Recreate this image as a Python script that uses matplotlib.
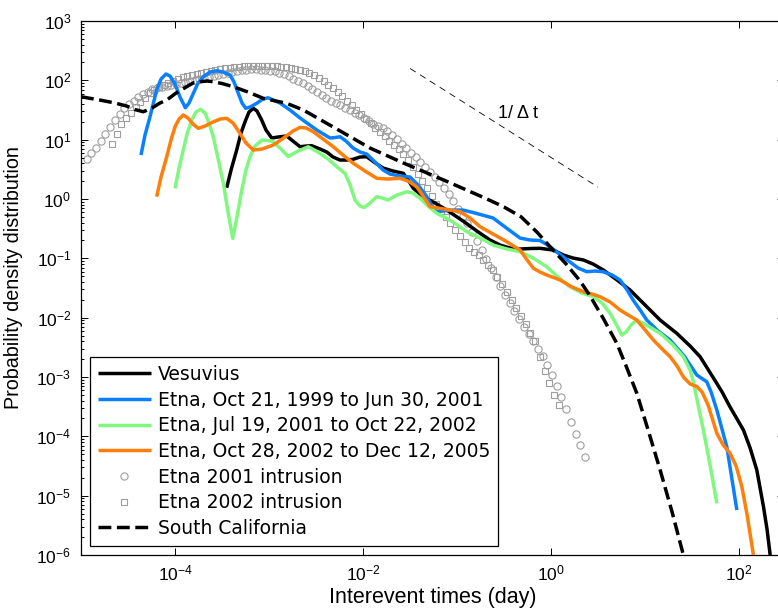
import numpy as np
import matplotlib
matplotlib.use('Agg')
import matplotlib.pyplot as plt
from matplotlib.ticker import LogLocator, NullLocator, NullFormatter

plt.rcParams['font.family'] = ['Liberation Sans', 'DejaVu Sans']
plt.rcParams['mathtext.default'] = 'regular'

# ---- data (log10 of day / log10 of pdf) ----
ves_logx = [-3.450, -3.404, -3.344, -3.298, -3.255, -3.213, -3.167, -3.128, -3.078, -3.032,
            -2.971, -2.904, -2.812, -2.745, -2.670, -2.606, -2.546, -2.457, -2.386, -2.319,
            -2.245, -2.173, -2.106, -2.032, -1.961, -1.883, -1.787, -1.681, -1.571, -1.521,
            -1.465, -1.359, -1.234, -1.110, -0.936, -0.755, -0.649, -0.543, -0.436, -0.330,
            -0.223, -0.117, 0.021, 0.131, 0.234, 0.344, 0.447, 0.556, 0.702, 0.840,
            1.000, 1.160, 1.337, 1.479, 1.585, 1.727, 1.819, 1.902, 2.046, 2.117,
            2.188, 2.223, 2.259, 2.298, 2.330]
ves_logy = [0.190, 0.489, 0.826, 1.112, 1.303, 1.466, 1.529, 1.483, 1.331, 1.163,
            1.028, 1.045, 1.062, 0.977, 0.881, 0.893, 0.898, 0.843, 0.792, 0.708,
            0.657, 0.657, 0.669, 0.708, 0.713, 0.623, 0.522, 0.472, 0.433, 0.320,
            0.180, 0.039, -0.068, -0.186, -0.371, -0.578, -0.691, -0.776, -0.826, -0.843,
            -0.834, -0.831, -0.860, -0.944, -0.995, -1.028, -1.096, -1.197, -1.365, -1.534,
            -1.787, -2.040, -2.264, -2.478, -2.658, -3.017, -3.253, -3.501, -3.894, -4.197,
            -4.568, -4.871, -5.186, -5.579, -6.000]

etna1_logx = [-4.362, -4.319, -4.266, -4.195, -4.149, -4.096, -4.053, -4.000, -3.947, -3.890,
              -3.851, -3.805, -3.755, -3.699, -3.628, -3.556, -3.489, -3.415, -3.372, -3.327,
              -3.287, -3.248, -3.202, -3.131, -3.074, -3.011, -2.883, -2.777, -2.670, -2.493,
              -2.351, -2.298, -2.245, -2.181, -2.106, -2.032, -1.961, -1.872, -1.787, -1.713,
              -1.606, -1.500, -1.415, -1.322, -1.277, -1.216, -1.149, -1.074, -0.936, -0.809,
              -0.617, -0.489, -0.330, -0.223, -0.117, -0.053, 0.021, 0.117, 0.202, 0.287,
              0.380, 0.468, 0.553, 0.649, 0.734, 0.809, 0.872, 0.947, 1.018, 1.138,
              1.266, 1.415, 1.550, 1.656, 1.702, 1.763, 1.869, 1.976]
etna1_logy = [0.741, 1.079, 1.387, 1.837, 2.022, 2.107, 2.073, 1.938, 1.719, 1.539,
              1.618, 1.781, 1.955, 2.061, 2.140, 2.162, 2.140, 2.090, 1.972, 1.781,
              1.618, 1.529, 1.550, 1.613, 1.677, 1.707, 1.618, 1.500, 1.365, 1.163,
              1.028, 1.036, 1.050, 0.977, 0.859, 0.792, 0.758, 0.623, 0.489, 0.421,
              0.387, 0.371, 0.236, 0.039, -0.101, -0.214, -0.202, -0.186, -0.186, -0.236,
              -0.320, -0.472, -0.658, -0.691, -0.700, -0.759, -0.843, -0.961, -1.062, -1.163,
              -1.225, -1.214, -1.225, -1.281, -1.365, -1.534, -1.702, -1.871, -2.040, -2.225,
              -2.377, -2.646, -2.967, -3.080, -3.253, -3.557, -4.175, -5.242]

etna2_logx = [-4.000, -3.957, -3.912, -3.872, -3.822, -3.777, -3.727, -3.681, -3.638, -3.593,
              -3.543, -3.486, -3.436, -3.386, -3.351, -3.290, -3.245, -3.202, -3.149, -3.074,
              -2.968, -2.883, -2.795, -2.691, -2.582, -2.479, -2.372, -2.287, -2.191, -2.138,
              -2.085, -2.032, -1.989, -1.926, -1.854, -1.798, -1.734, -1.638, -1.535, -1.468,
              -1.394, -1.309, -1.216, -1.110, -1.011, -0.897, -0.755, -0.614, -0.468, -0.330,
              -0.191, -0.046, 0.074, 0.202, 0.330, 0.450, 0.543, 0.628, 0.691, 0.752,
              0.798, 0.851, 0.912, 1.032, 1.160, 1.287, 1.407, 1.479, 1.514, 1.564,
              1.620, 1.691, 1.763]
etna2_logy = [0.180, 0.522, 0.826, 1.095, 1.331, 1.466, 1.512, 1.449, 1.281, 1.050,
              0.691, 0.265, -0.219, -0.663, -0.388, 0.152, 0.489, 0.713, 0.893, 0.994,
              0.977, 0.859, 0.716, 0.809, 0.881, 0.792, 0.674, 0.556, 0.430, 0.236,
              -0.017, -0.118, -0.143, -0.068, 0.039, 0.017, -0.017, 0.067, 0.123, 0.101,
              0.011, -0.118, -0.241, -0.326, -0.422, -0.551, -0.657, -0.776, -0.843, -0.888,
              -0.995, -1.141, -1.315, -1.478, -1.585, -1.647, -1.753, -1.927, -2.107, -2.293,
              -2.242, -2.124, -2.040, -2.141, -2.264, -2.444, -2.658, -2.882, -3.085, -3.472,
              -3.894, -4.484, -5.129]

etna3_logx = [-4.195, -4.149, -4.088, -4.043, -4.000, -3.957, -3.912, -3.862, -3.809, -3.752,
              -3.681, -3.596, -3.521, -3.450, -3.383, -3.309, -3.245, -3.167, -3.074, -2.954,
              -2.830, -2.745, -2.670, -2.606, -2.529, -2.426, -2.316, -2.213, -2.103, -1.979,
              -1.854, -1.734, -1.606, -1.521, -1.429, -1.362, -1.287, -1.181, -1.074, -0.968,
              -0.862, -0.755, -0.617, -0.471, -0.330, -0.255, -0.188, -0.117, -0.046, 0.096,
              0.223, 0.344, 0.436, 0.521, 0.628, 0.734, 0.819, 0.912, 1.000, 1.088,
              1.181, 1.266, 1.340, 1.407, 1.479, 1.550, 1.606, 1.670, 1.763, 1.830,
              1.904, 1.968, 2.029, 2.085, 2.152]
etna3_logy = [0.039, 0.371, 0.713, 0.994, 1.218, 1.348, 1.416, 1.365, 1.264, 1.191,
              1.230, 1.298, 1.348, 1.360, 1.281, 1.107, 0.944, 0.826, 0.843, 0.910,
              1.045, 1.146, 1.208, 1.197, 1.134, 1.011, 0.881, 0.741, 0.602, 0.472,
              0.349, 0.337, 0.349, 0.303, 0.207, 0.050, -0.130, -0.157, -0.186, -0.214,
              -0.320, -0.467, -0.590, -0.720, -0.860, -1.028, -1.168, -1.231, -1.281, -1.365,
              -1.483, -1.563, -1.601, -1.647, -1.736, -1.871, -1.955, -2.040, -2.208, -2.377,
              -2.528, -2.658, -2.815, -3.000, -3.118, -3.160, -3.253, -3.472, -3.949, -4.146,
              -4.286, -4.500, -4.849, -5.326, -6.000]

scal_logx = [-5.000, -4.798, -4.638, -4.514, -4.426, -4.337, -4.245, -4.160, -4.088, -3.989,
             -3.876, -3.809, -3.734, -3.660, -3.593, -3.500, -3.380, -3.223, -3.061, -2.812,
             -2.635, -2.280, -1.926, -1.571, -1.117, -0.681, -0.500, -0.319, -0.149,
             0.011, 0.160, 0.309, 0.415, 0.553, 0.699, 0.798, 0.912, 1.032, 1.160,
             1.287, 1.407]
scal_logy = [1.724, 1.668, 1.618, 1.567, 1.508, 1.471, 1.534, 1.618, 1.668, 1.786,
             1.893, 1.955, 1.977, 1.989, 1.977, 1.947, 1.893, 1.803, 1.697, 1.613,
             1.500, 1.180, 0.859, 0.607, 0.303, 0.000, -0.135, -0.300, -0.560,
             -0.843, -1.096, -1.382, -1.635, -2.006, -2.432, -2.815, -3.275, -3.894, -4.568,
             -5.276, -6.000]

circ_logx = [-4.94, -4.89, -4.84, -4.79, -4.74, -4.69, -4.64, -4.59, -4.54, -4.49,
             -4.44, -4.39, -4.34, -4.29, -4.24, -4.19, -4.14, -4.09, -4.04, -3.99,
             -3.94, -3.89, -3.84, -3.79, -3.74, -3.69, -3.64, -3.59, -3.54, -3.49,
             -3.44, -3.39, -3.34, -3.29, -3.24, -3.19, -3.14, -3.09, -3.04, -2.99,
             -2.94, -2.89, -2.84, -2.79, -2.74, -2.69, -2.64, -2.59, -2.54, -2.49,
             -2.44, -2.39, -2.34, -2.29, -2.24, -2.19, -2.14, -2.09, -2.04, -1.99,
             -1.94, -1.89, -1.84, -1.79, -1.74, -1.69, -1.64, -1.59, -1.54, -1.49,
             -1.44, -1.39, -1.34, -1.29, -1.24, -1.19, -1.14, -1.09, -1.04, -0.99,
             -0.94, -0.89, -0.84, -0.79, -0.74, -0.69, -0.64, -0.59, -0.54, -0.49,
             -0.44, -0.39, -0.34, -0.29, -0.24, -0.19, -0.14, -0.09, -0.04, 0.01,
             0.06, 0.11, 0.16, 0.21, 0.26, 0.31, 0.36]
circ_logy = [0.67, 0.77, 0.86, 0.97, 1.10, 1.22, 1.33, 1.44, 1.54, 1.60,
             1.66, 1.72, 1.77, 1.81, 1.85, 1.87, 1.89, 1.91, 1.93, 1.94,
             1.96, 1.98, 1.99, 2.01, 2.03, 2.04, 2.06, 2.08, 2.09, 2.11,
             2.13, 2.14, 2.16, 2.17, 2.18, 2.19, 2.19, 2.18, 2.18, 2.16,
             2.15, 2.13, 2.11, 2.07, 2.03, 1.99, 1.95, 1.90, 1.85, 1.80,
             1.75, 1.71, 1.66, 1.62, 1.58, 1.54, 1.50, 1.45, 1.41, 1.36,
             1.31, 1.27, 1.23, 1.19, 1.15, 1.08, 1.01, 0.93, 0.86, 0.78,
             0.70, 0.62, 0.54, 0.46, 0.37, 0.28, 0.19, 0.09, -0.03, -0.16,
             -0.29, -0.41, -0.56, -0.71, -0.86, -1.01, -1.16, -1.31, -1.47, -1.62,
             -1.75, -1.89, -2.03, -2.16, -2.28, -2.40, -2.52, -2.65, -2.80, -2.96,
             -3.15, -3.34, -3.54, -3.75, -3.96, -4.15, -4.34]

sq_logx = [-4.67, -4.62, -4.57, -4.52, -4.47, -4.42, -4.37, -4.32, -4.27, -4.22,
           -4.17, -4.12, -4.07, -4.02, -3.97, -3.92, -3.87, -3.82, -3.77, -3.72,
           -3.67, -3.62, -3.57, -3.52, -3.47, -3.42, -3.37, -3.32, -3.27, -3.22,
           -3.17, -3.12, -3.07, -3.02, -2.97, -2.92, -2.87, -2.82, -2.77, -2.72,
           -2.67, -2.62, -2.57, -2.52, -2.47, -2.42, -2.37, -2.32, -2.27, -2.22,
           -2.17, -2.12, -2.07, -2.02, -1.97, -1.92, -1.87, -1.82, -1.77, -1.72,
           -1.67, -1.62, -1.57, -1.52, -1.47, -1.42, -1.37, -1.32, -1.27, -1.22,
           -1.17, -1.12, -1.07, -1.02, -0.97, -0.92, -0.87, -0.82, -0.77, -0.72,
           -0.67, -0.62, -0.57, -0.52, -0.47, -0.42, -0.37, -0.32, -0.27, -0.22,
           -0.17, -0.12, -0.07, -0.02, 0.03, 0.08]
sq_logy = [0.93, 1.10, 1.27, 1.36, 1.45, 1.55, 1.64, 1.71, 1.78, 1.83,
           1.88, 1.92, 1.96, 1.99, 2.02, 2.05, 2.07, 2.09, 2.11, 2.12,
           2.14, 2.16, 2.18, 2.19, 2.20, 2.21, 2.22, 2.23, 2.24, 2.25,
           2.25, 2.25, 2.25, 2.25, 2.25, 2.24, 2.23, 2.22, 2.21, 2.19,
           2.17, 2.15, 2.13, 2.09, 2.04, 1.99, 1.93, 1.87, 1.80, 1.73,
           1.66, 1.58, 1.50, 1.43, 1.35, 1.28, 1.20, 1.13, 1.06, 0.98,
           0.91, 0.84, 0.76, 0.65, 0.54, 0.42, 0.30, 0.18, 0.05, -0.09,
           -0.20, -0.30, -0.40, -0.52, -0.63, -0.72, -0.82, -0.89, -0.95, -1.03,
           -1.11, -1.19, -1.31, -1.43, -1.56, -1.70, -1.83, -1.97, -2.11, -2.26,
           -2.40, -2.66, -2.90, -3.10, -3.30, -3.48]

# 1/dt reference segment
ref_logx = [-1.5, 0.5]
ref_logy = [2.2, 0.2]

labels = ['Vesuvius',
          'Etna, Oct 21, 1999 to Jun 30, 2001',
          'Etna, Jul 19, 2001 to Oct 22, 2002',
          'Etna, Oct 28, 2002 to Dec 12, 2005',
          'Etna 2001 intrusion',
          'Etna 2002 intrusion',
          'South California']

xtick_vals = [1e-4, 1e-2, 1e0, 1e2]
ytick_vals = [1e-6, 1e-5, 1e-4, 1e-3, 1e-2, 1e-1, 1e0, 1e1, 1e2, 1e3]


def p10(a):
    return np.power(10.0, np.asarray(a))


# ---- figure ----
fig = plt.figure(figsize=(7.78, 6.13), dpi=100)
ax = fig.add_axes([0.1041, 0.0946, 0.9036, 0.8711])

gray = (0.62, 0.62, 0.62)
h_c, = ax.plot(p10(circ_logx), p10(circ_logy), 'o', ms=5.2, mfc='none', mec=gray, mew=0.8, zorder=1)
h_s, = ax.plot(p10(sq_logx), p10(sq_logy), 's', ms=4.6, mfc='none', mec=gray, mew=0.8, zorder=1)

lw = 2.5
kw = dict(lw=lw, zorder=3, solid_joinstyle='round', solid_capstyle='butt')
h_v, = ax.plot(p10(ves_logx), p10(ves_logy), '-', color='k', **kw)
h_1, = ax.plot(p10(etna1_logx), p10(etna1_logy), '-', color='#0a80ff', **kw)
h_2, = ax.plot(p10(etna2_logx), p10(etna2_logy), '-', color='#80f880', **kw)
h_3, = ax.plot(p10(etna3_logx), p10(etna3_logy), '-', color='#ff7f0a', **kw)
h_d, = ax.plot(p10(scal_logx), p10(scal_logy), '--', color='k', lw=lw, zorder=4)

ax.plot(p10(ref_logx), p10(ref_logy), color='k', lw=0.6, dashes=(8, 6))
ax.text(10 ** -0.56, 10 ** 1.44, '1/ \u0394 t', fontsize=13, va='center', ha='left')

ax.set_xscale('log')
ax.set_yscale('log')
ax.set_xlim(1e-5, 300)
ax.set_ylim(1e-6, 1e3)

ax.set_xticks(xtick_vals)
ax.xaxis.set_minor_locator(NullLocator())
ax.set_yticks(ytick_vals)
ax.yaxis.set_minor_locator(LogLocator(base=10, subs=np.arange(2, 10), numticks=20))
ax.yaxis.set_minor_formatter(NullFormatter())

ax.tick_params(which='both', direction='in', top=True, right=True, labelsize=12.5, width=0.7)
ax.tick_params(which='major', length=5)
ax.tick_params(which='minor', length=2.5)
ax.tick_params(axis='y', pad=7)
ax.tick_params(axis='x', pad=6)
for sp in ax.spines.values():
    sp.set_linewidth(0.9)

ax.set_xlabel('Interevent times (day)', fontsize=15.5, labelpad=3)
ax.set_ylabel('Probability density distribution', fontsize=14.2)
ax.yaxis.set_label_coords(-0.083, 0.52)

leg = ax.legend([h_v, h_1, h_2, h_3, h_c, h_s, h_d], labels,
                loc='lower left', bbox_to_anchor=(0.0128, 0.0174), borderaxespad=0,
                prop={'family': 'DejaVu Sans', 'size': 13.5},
                frameon=True, fancybox=False, framealpha=1,
                edgecolor='k', handlelength=2.83, handletextpad=0.37,
                labelspacing=0.355, borderpad=0.42, numpoints=1)
leg.get_frame().set_linewidth(0.9)

fig.savefig('out.png', dpi=100)
